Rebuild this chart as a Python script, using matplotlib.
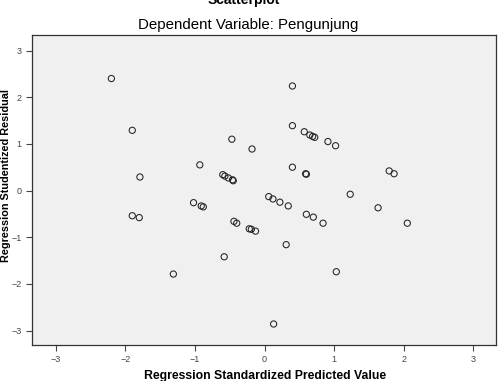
import matplotlib
matplotlib.use("Agg")
import matplotlib.pyplot as plt

plt.rcParams['font.family'] = ['Liberation Sans', 'DejaVu Sans']

# standardized predicted value (x) and studentized residual (y)
pred = [-2.20, 0.40, -1.90, 0.40, -0.47, -0.18, 0.40, -0.93, -1.79,
        -0.60, -0.57, -0.52, -0.46, -0.45,
        0.06, 0.12, 0.22, 0.34,
        -1.02, -0.91, -0.88,
        0.57, 0.65, 0.69, 0.72, 0.91, 1.02,
        0.59, 0.60, 1.79, 1.86, 1.23, 1.63,
        -1.90, -1.80, -0.44, -0.40, -0.22, -0.19, -0.13,
        0.31, -0.58, -1.31, 0.13, 2.05,
        0.60, 0.70, 0.84, 1.03]
resid = [2.40, 2.24, 1.29, 1.39, 1.10, 0.89, 0.50, 0.55, 0.29,
         0.34, 0.31, 0.27, 0.23, 0.21,
         -0.13, -0.18, -0.25, -0.33,
         -0.26, -0.33, -0.35,
         1.26, 1.19, 1.16, 1.14, 1.05, 0.96,
         0.36, 0.35, 0.42, 0.36, -0.08, -0.37,
         -0.54, -0.58, -0.66, -0.70, -0.82, -0.83, -0.87,
         -1.16, -1.42, -1.79, -2.86, -0.70,
         -0.51, -0.57, -0.70, -1.74]
ticks = [-3, -2, -1, 0, 1, 2, 3]

fig = plt.figure(figsize=(5.04, 3.81), dpi=100)
ax = fig.add_axes([0.0635, 0.0945, 0.9215, 0.8145])
ax.set_facecolor('#f0f0f0')

ax.scatter(pred, resid, s=20, facecolors='none', edgecolors='#222222', linewidths=0.75)

ax.set_xlim(-3.34, 3.33)
ax.set_ylim(-3.31, 3.34)
ax.set_xticks(ticks)
ax.set_yticks(ticks)
ax.tick_params(direction='out', length=4, width=0.8, colors='#444444',
               labelsize=6.5, labelcolor='#444444')
for s in ax.spines.values():
    s.set_color('#333333')
    s.set_linewidth(0.9)

# top title is partly cut off in the original export
fig.text(0.484, 0.999, 'Scatterplot', ha='center', va='center',
         fontsize=10, fontweight='bold')
fig.text(0.492, 0.934, 'Dependent Variable: Pengunjung', ha='center', va='center',
         fontsize=10.8)
fig.text(0.526, 0.014, 'Regression Standardized Predicted Value', ha='center',
         va='center', fontsize=8.8, fontweight='bold')
fig.text(0.012, 0.54, 'Regression Studentized Residual', ha='center',
         va='center', rotation=90, fontsize=7.8, fontweight='bold')

fig.savefig('out.png', dpi=100)
